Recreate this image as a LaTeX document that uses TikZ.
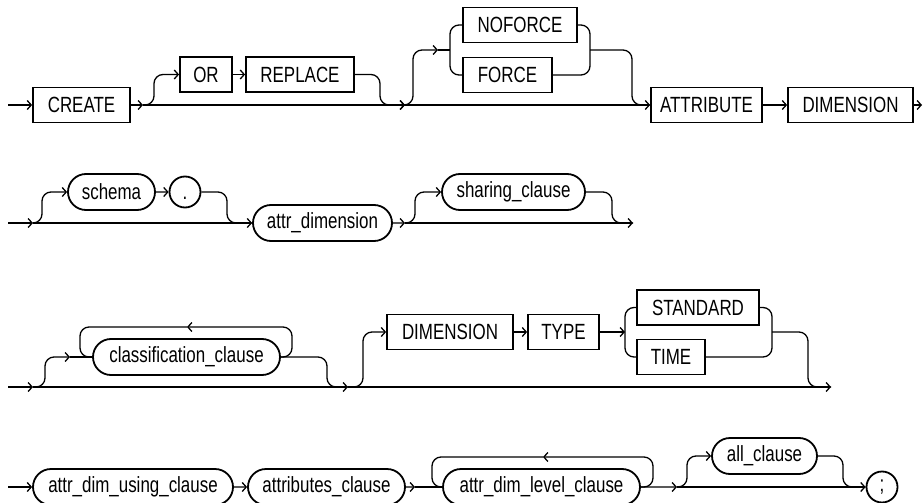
\documentclass[tikz,border=0pt]{standalone}
\usepackage{fontspec}
\setmainfont[FakeStretch=0.77]{Liberation Sans}
\usetikzlibrary{shapes.misc,arrows.meta}

\begin{document}
\begin{tikzpicture}[x=1pt, y=-1pt, line width=1.3pt,
    >={Straight Barb[length=4pt,width=9pt]},
    kwbox/.style={draw, line width=1.8pt, minimum height=35pt, inner sep=0pt, font=\fontsize{22}{26}\selectfont},
    ntpill/.style={draw, rounded rectangle, line width=1.8pt, minimum height=36pt, inner sep=0pt, font=\fontsize{22}{26}\selectfont},
    termdot/.style={draw, circle, line width=1.8pt, minimum size=31pt, inner sep=0pt, font=\fontsize{22}{26}\selectfont},
    rnd/.style={rounded corners=9pt}]
  \useasboundingbox (0,0) rectangle (924,503);

  % row 1
  \coordinate (in1) at (8,105); \coordinate (j1) at (143,105);
  \coordinate (j2) at (405,105); \coordinate (j2a) at (438,50);
  \coordinate (out1) at (922,105);
  \node[kwbox, minimum width=97pt] (create) at (81.5,105) {CREATE};
  \node[kwbox, minimum width=52pt] (or) at (206,74.5) {OR};
  \node[kwbox, minimum width=108pt] (replace) at (300,74.5) {REPLACE};
  \node[kwbox, minimum width=114pt] (noforce) at (520,25) {NOFORCE};
  \node[kwbox, minimum width=89pt] (force) at (507.5,75) {FORCE};
  \node[kwbox, minimum width=111pt] (attribute) at (706.5,105) {ATTRIBUTE};
  \node[kwbox, minimum width=125pt] (dimension) at (850.5,105) {DIMENSION};
  \draw[->] (in1) -- (create);
  \draw[->] (create) -- (j1);
  \draw[->] (j1) -- (j2);
  \draw[->] (j2) -- (attribute);
  \draw[->, rnd] (j1) -- (154,105) -- (154,74.5) -- (or);
  \draw[->] (or) -- (replace);
  \draw[->, rnd] (replace) -- (380,74.5) -- (380,105) -- (j2);
  \draw[->, rnd] (j2) -- (413,105) -- (413,50) -- (j2a);
  \draw (j2a) -- (450,50);
  \draw[rnd] (noforce.west) -- (450,25) -- (450,75) -- (force.west);
  \draw[rnd] (noforce.east) -- (590,25) -- (590,75) -- (force.east);
  \draw[rnd] (590,50) -- (632,50) -- (632,105) -- (attribute.west);
  \draw[->] (attribute) -- (dimension);
  \draw[->] (dimension) -- (out1);

  % row 2
  \coordinate (in2) at (8,223); \coordinate (j3) at (33,223);
  \coordinate (j4) at (405,223); \coordinate (out2) at (633,223);
  \node[ntpill, minimum width=87pt] (schema) at (111.5,192) {schema};
  \node[termdot] (period) at (185,192) {\vphantom{A}.};
  \node[ntpill, minimum width=139pt] (attrdim) at (322.5,223) {attr\_dimension};
  \node[ntpill, minimum width=143pt] (sharing) at (513.5,192) {sharing\_clause};
  \draw[->] (in2) -- (j3);
  \draw[->] (j3) -- (attrdim);
  \draw[->, rnd] (j3) -- (42,223) -- (42,192) -- (schema);
  \draw[->] (schema) -- (period);
  \draw[rnd] (period) -- (227,192) -- (227,223) -- (attrdim);
  \draw[->] (attrdim) -- (j4);
  \draw[->] (j4) -- (out2);
  \draw[->, rnd] (j4) -- (415,223) -- (415,192) -- (sharing);
  \draw[rnd] (sharing) -- (612,192) -- (612,223) -- (out2);

  % row 3
  \coordinate (in3) at (8,387); \coordinate (j5) at (33,387);
  \coordinate (j6) at (348,387); \coordinate (j7) at (70,357);
  \coordinate (j8) at (625,332); \coordinate (back1) at (187,327);
  \coordinate (out3) at (831,387);
  \node[ntpill, minimum width=187pt] (class) at (186.5,357) {classification\_clause};
  \node[kwbox, minimum width=126pt] (dim2) at (450,332) {DIMENSION};
  \node[kwbox, minimum width=71pt] (type) at (563.5,332) {TYPE};
  \node[kwbox, minimum width=122pt] (standard) at (698,307.5) {STANDARD};
  \node[kwbox, minimum width=68pt] (time) at (671,357) {TIME};
  \draw[->] (in3) -- (j5);
  \draw[->] (j5) -- (j6);
  \draw[->] (j6) -- (out3);
  \draw[->, rnd] (j5) -- (45,387) -- (45,357) -- (j7);
  \draw (j7) -- (class);
  \draw[->, rnd] (class.east) -- (292,357) -- (292,327) -- (back1);
  \draw[rnd] (back1) -- (80,327) -- (80,357) -- (class.west);
  \draw[rnd] (class) -- (327,357) -- (327,387) -- (j6);
  \draw[->, rnd] (j6) -- (363,387) -- (363,332) -- (dim2);
  \draw[->] (dim2) -- (type);
  \draw[->] (type) -- (j8);
  \draw[rnd] (standard.west) -- (625,307.5) -- (625,357) -- (time.west);
  \draw[rnd] (standard.east) -- (772,307.5) -- (772,357) -- (time.east);
  \draw[rnd] (772,332) -- (808,332) -- (808,387) -- (out3);

  % row 4
  \coordinate (in4) at (8,487); \coordinate (j9) at (415,487);
  \coordinate (j10) at (677,487); \coordinate (back2) at (543,457);
  \node[ntpill, minimum width=200pt] (using) at (133,487) {attr\_dim\_using\_clause};
  \node[ntpill, minimum width=157pt] (attrs) at (326.5,487) {attributes\_clause};
  \node[ntpill, minimum width=197pt] (level) at (541.5,487) {attr\_dim\_level\_clause};
  \node[ntpill, minimum width=105pt] (all) at (764.5,456) {all\_clause};
  \node[termdot] (semi) at (882,487) {;};
  \draw[->] (in4) -- (using);
  \draw[->] (using) -- (attrs);
  \draw[->] (attrs) -- (j9);
  \draw (j9) -- (level);
  \draw[->, rnd] (level.east) -- (653,487) -- (653,457) -- (back2);
  \draw[rnd] (back2) -- (432,457) -- (432,487) -- (level.west);
  \draw[->] (level) -- (j10);
  \draw[->] (j10) -- (semi);
  \draw[->, rnd] (j10) -- (687,487) -- (687,456) -- (all);
  \draw[rnd] (all) -- (843,456) -- (843,487) -- (semi);
\end{tikzpicture}
\end{document}
